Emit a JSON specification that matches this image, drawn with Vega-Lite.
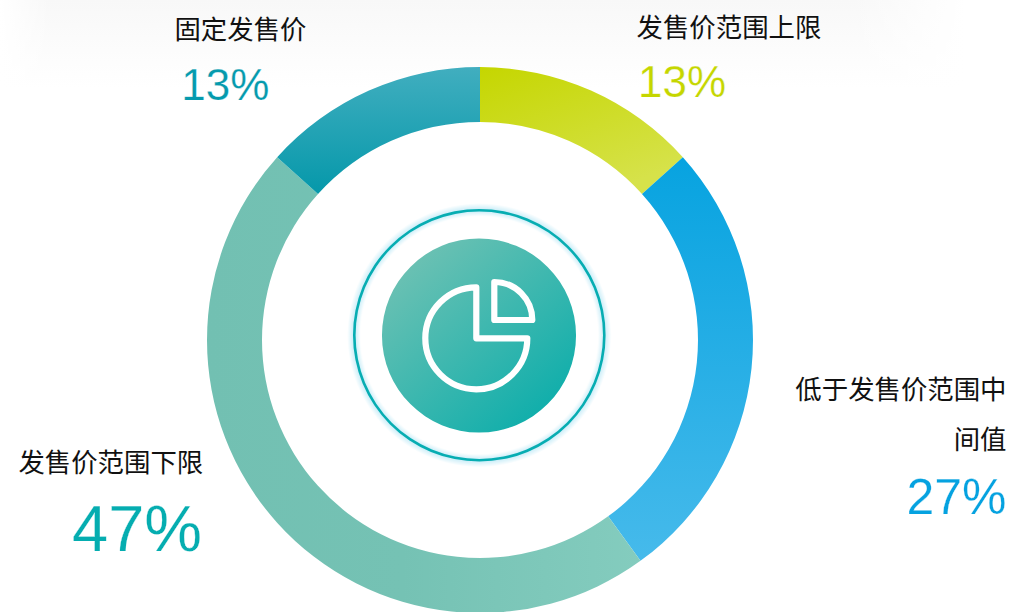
{
"$schema":"https://vega.github.io/schema/vega-lite/v6.json",
"width":1012,"height":612,"padding":0,
"autosize":{"type":"fit","contains":"padding"},
"background":"#ffffff",
"view":{"stroke":null},
"datasets":{
 "shares":[
  {"order":1,"segment":"upper","name":"发售价范围上限","pct":"13%","start":0,"end":13.33,"mid":6.67},
  {"order":2,"segment":"mid","name":"低于发售价范围中\n间值","pct":"27%","start":13.33,"end":40,"mid":26.67},
  {"order":3,"segment":"lower","name":"发售价范围下限","pct":"47%","start":40,"end":86.67,"mid":63.33},
  {"order":4,"segment":"fixed","name":"固定发售价","pct":"13%","start":86.67,"end":100,"mid":93.33}
 ],
 "one":[{"k":1}]
},
"data":{"name":"shares"},
"layer":[
 {"data":{"name":"one"},"mark":{"type":"rect","fill":{"gradient":"linear","x1":0,"y1":0,"x2":0,"y2":1,"stops":[{"offset":0,"color":"#f8f8f8"},{"offset":1,"color":"#ffffff"}]}},
  "encoding":{"x":{"value":0},"x2":{"value":1012},"y":{"value":0},"y2":{"value":88}}},
 {"data":{"name":"one"},"mark":{"type":"rect","fill":{"gradient":"linear","x1":0,"y1":0,"x2":1,"y2":0,"stops":[{"offset":0,"color":"rgba(255,255,255,0)"},{"offset":1,"color":"#ffffff"}]}},
  "encoding":{"x":{"value":850},"x2":{"value":965},"y":{"value":0},"y2":{"value":88}}},
 {"data":{"name":"one"},"mark":{"type":"rect","fill":"#ffffff"},
  "encoding":{"x":{"value":965},"x2":{"value":1012},"y":{"value":0},"y2":{"value":88}}},
 {"data":{"name":"one"},"mark":{"type":"rect","fill":{"gradient":"linear","x1":0,"y1":0,"x2":1,"y2":0,"stops":[{"offset":0,"color":"#ffffff"},{"offset":1,"color":"rgba(255,255,255,0)"}]}},
  "encoding":{"x":{"value":0},"x2":{"value":50},"y":{"value":0},"y2":{"value":88}}},
 {"data":{"name":"one"},"mark":{"type":"arc","theta":0,"theta2":6.2832,"innerRadius":0,"outerRadius":132,
   "fill":{"gradient":"radial","x1":0.5,"y1":0.5,"r1":0,"x2":0.5,"y2":0.5,"r2":0.5,"stops":[{"offset":0.9,"color":"#ffffff"},{"offset":0.947,"color":"#c4ebf7"},{"offset":1,"color":"#ffffff"}]}},
  "encoding":{"x":{"value":479.3},"y":{"value":335.2}}},
 {"data":{"name":"one"},"mark":{"type":"arc","theta":0,"theta2":6.2832,"innerRadius":123.7,"outerRadius":126.3,"fill":"#07adb2"},
  "encoding":{"x":{"value":479.3},"y":{"value":335.2}}},
 {"data":{"name":"one"},"mark":{"type":"arc","theta":0,"theta2":6.2832,"innerRadius":0,"outerRadius":97,
   "fill":{"gradient":"linear","x1":0.15,"y1":0.1,"x2":0.85,"y2":0.9,"stops":[{"offset":0,"color":"#6cc1b3"},{"offset":1,"color":"#0faeab"}]}},
  "encoding":{"x":{"value":479},"y":{"value":335.5}}},
 {"data":{"name":"one"},"mark":{"type":"arc","theta":1.5708,"theta2":6.2832,"innerRadius":0,"outerRadius":51,"fillOpacity":0,"stroke":"#ffffff","strokeWidth":6.2,"strokeJoin":"round"},
  "encoding":{"x":{"value":476.3},"y":{"value":338.3}}},
 {"data":{"name":"one"},"mark":{"type":"arc","theta":0,"theta2":1.5708,"innerRadius":0,"outerRadius":38,"fillOpacity":0,"stroke":"#ffffff","strokeWidth":6.2,"strokeJoin":"round"},
  "encoding":{"x":{"value":494.3},"y":{"value":320}}},
 {"transform":[{"filter":"datum.segment==='upper'"}],"mark":{"type":"arc","innerRadius":218,"outerRadius":273,"fill":{"gradient":"linear","x1":0,"y1":0,"x2":0.6,"y2":1,"stops":[{"offset":0,"color":"#c5d600"},{"offset":1,"color":"#d6e24a"}]}},
  "encoding":{"x":{"value":480},"y":{"value":340},"theta":{"field":"start","type":"quantitative","scale":{"domain":[0,100]}},"theta2":{"field":"end"}}},
 {"transform":[{"filter":"datum.segment==='mid'"}],"mark":{"type":"arc","innerRadius":218,"outerRadius":273,"fill":{"gradient":"linear","x1":0,"y1":0,"x2":0,"y2":1,"stops":[{"offset":0,"color":"#07a3e0"},{"offset":1,"color":"#46baeb"}]}},
  "encoding":{"x":{"value":480},"y":{"value":340},"theta":{"field":"start","type":"quantitative","scale":{"domain":[0,100]}},"theta2":{"field":"end"}}},
 {"transform":[{"filter":"datum.segment==='lower'"}],"mark":{"type":"arc","innerRadius":218,"outerRadius":273,"fill":{"gradient":"linear","x1":0,"y1":0,"x2":1,"y2":0,"stops":[{"offset":0,"color":"#72c0b2"},{"offset":0.45,"color":"#75c2b4"},{"offset":1,"color":"#84ccbe"}]}},
  "encoding":{"x":{"value":480},"y":{"value":340},"theta":{"field":"start","type":"quantitative","scale":{"domain":[0,100]}},"theta2":{"field":"end"}}},
 {"transform":[{"filter":"datum.segment==='fixed'"}],"mark":{"type":"arc","innerRadius":218,"outerRadius":273,"fill":{"gradient":"linear","x1":0,"y1":0,"x2":0,"y2":1,"stops":[{"offset":0,"color":"#41aebf"},{"offset":1,"color":"#0598aa"}]}},
  "encoding":{"x":{"value":480},"y":{"value":340},"theta":{"field":"start","type":"quantitative","scale":{"domain":[0,100]}},"theta2":{"field":"end"}}},
 {"transform":[{"filter":"datum.segment==='upper'"}],"mark":{"type":"text","font":"Noto Sans CJK SC","fontSize":26.4,"fill":"#111111","align":"left","baseline":"alphabetic","dx":45.5,"dy":-54},
  "encoding":{"x":{"value":480},"y":{"value":340},"theta":{"field":"mid","type":"quantitative","scale":{"domain":[0,100]}},"radius":{"value":273},"text":{"field":"name"}}},
 {"transform":[{"filter":"datum.segment==='upper'"}],"mark":{"type":"text","font":"Liberation Sans","fontSize":44,"fill":"#c5d600","stroke":"#ffffff","strokeWidth":0.25,"align":"left","baseline":"alphabetic","dx":47,"dy":6.5},
  "encoding":{"x":{"value":480},"y":{"value":340},"theta":{"field":"mid","type":"quantitative","scale":{"domain":[0,100]}},"radius":{"value":273},"text":{"field":"pct"}}},
 {"transform":[{"filter":"datum.segment==='mid'"}],"mark":{"type":"text","font":"Noto Sans CJK SC","fontSize":26.4,"fill":"#111111","align":"right","baseline":"alphabetic","dx":255,"dy":30,"lineBreak":"\n","lineHeight":50},
  "encoding":{"x":{"value":480},"y":{"value":340},"theta":{"field":"mid","type":"quantitative","scale":{"domain":[0,100]}},"radius":{"value":273},"text":{"field":"name"}}},
 {"transform":[{"filter":"datum.segment==='mid'"}],"mark":{"type":"text","font":"Liberation Sans","fontSize":50,"fill":"#05a2e0","stroke":"#ffffff","strokeWidth":0.25,"align":"right","baseline":"alphabetic","dx":255,"dy":145},
  "encoding":{"x":{"value":480},"y":{"value":340},"theta":{"field":"mid","type":"quantitative","scale":{"domain":[0,100]}},"radius":{"value":273},"text":{"field":"pct"}}},
 {"transform":[{"filter":"datum.segment==='lower'"}],"mark":{"type":"text","font":"Noto Sans CJK SC","fontSize":26.4,"fill":"#111111","align":"right","baseline":"alphabetic","dx":-74,"dy":-51},
  "encoding":{"x":{"value":480},"y":{"value":340},"theta":{"field":"mid","type":"quantitative","scale":{"domain":[0,100]}},"radius":{"value":273},"text":{"field":"name"}}},
 {"transform":[{"filter":"datum.segment==='lower'"}],"mark":{"type":"text","font":"Liberation Sans","fontSize":65,"fill":"#05adb0","stroke":"#ffffff","strokeWidth":0.25,"align":"right","baseline":"alphabetic","dx":-75,"dy":28},
  "encoding":{"x":{"value":480},"y":{"value":340},"theta":{"field":"mid","type":"quantitative","scale":{"domain":[0,100]}},"radius":{"value":273},"text":{"field":"pct"}}},
 {"transform":[{"filter":"datum.segment==='fixed'"}],"mark":{"type":"text","font":"Noto Sans CJK SC","fontSize":26.4,"fill":"#111111","align":"right","baseline":"alphabetic","dx":-62.5,"dy":-52},
  "encoding":{"x":{"value":480},"y":{"value":340},"theta":{"field":"mid","type":"quantitative","scale":{"domain":[0,100]}},"radius":{"value":273},"text":{"field":"name"}}},
 {"transform":[{"filter":"datum.segment==='fixed'"}],"mark":{"type":"text","font":"Liberation Sans","fontSize":44,"fill":"#059aad","stroke":"#ffffff","strokeWidth":0.25,"align":"right","baseline":"alphabetic","dx":-99.5,"dy":9.5},
  "encoding":{"x":{"value":480},"y":{"value":340},"theta":{"field":"mid","type":"quantitative","scale":{"domain":[0,100]}},"radius":{"value":273},"text":{"field":"pct"}}}
]
}
